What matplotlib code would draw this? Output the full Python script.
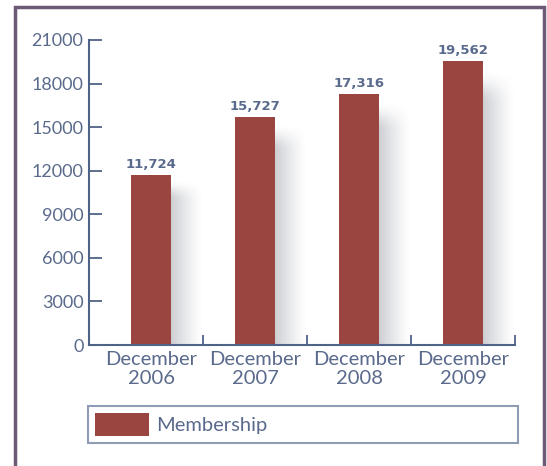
import numpy as np
import matplotlib
matplotlib.use("Agg")
import matplotlib.pyplot as plt
from matplotlib.lines import Line2D

categories = ["December\n2006", "December\n2007", "December\n2008", "December\n2009"]
membership = [11724, 15727, 17316, 19562]
value_labels = ["11,724", "15,727", "17,316", "19,562"]
yticks = [0, 3000, 6000, 9000, 12000, 15000, 18000, 21000]
series_name = "Membership"

BAR = "#9a4540"
TXT = "#5a6a8c"
AX = "#4f6288"
BORDER = "#6d5a76"

plt.rcParams['font.family'] = ['Lato', 'DejaVu Sans']

fig = plt.figure(figsize=(5.47, 4.66), dpi=100)
ax = fig.add_axes([89/547, 121/466, 426/547, 305/466])

x = np.arange(len(categories))
w = 0.385

# soft shadows to the right of bars
for xi, v in zip(x, membership):
    nx, ny = 80, 120
    gx = np.linspace(1, 0, nx) ** 1.3
    t = np.linspace(0, 1, ny)  # 0 = bottom, 1 = top
    gy = np.clip((0.97 - t) / 0.12, 0, 1)
    gy = gy * gy * (3 - 2 * gy)
    a = np.outer(gy[::-1], gx) * 0.45
    img = np.zeros((ny, nx, 4))
    img[..., 0] = 0.55
    img[..., 1] = 0.57
    img[..., 2] = 0.61
    img[..., 3] = a
    ax.imshow(img, extent=(xi + w/2, xi + w/2 + 0.30, 0, v),
              aspect='auto', zorder=1, interpolation='bilinear', origin='upper')

bars = ax.bar(x, membership, width=w, color=BAR, zorder=2, label=series_name)

for xi, v, lab in zip(x, membership, value_labels):
    ax.text(xi, v + 250, lab, ha='center', va='bottom', fontsize=9.5,
            fontweight='bold', color=TXT, family=['DejaVu Sans'])

ax.set_xlim(-0.6, 3.5)
ax.set_ylim(0, 21000)
ax.set_yticks(yticks)
ax.set_yticklabels([str(t) for t in yticks])
ax.set_xticks(x)
ax.set_xticklabels(categories, linespacing=1.15)
ax.set_xticks([0.5, 1.5, 2.5, 3.5], minor=True)

for s in ['top', 'right']:
    ax.spines[s].set_visible(False)
for s in ['left', 'bottom']:
    ax.spines[s].set_color(AX)
    ax.spines[s].set_linewidth(1.5)

ax.tick_params(axis='y', direction='in', length=9, width=1.3, color=AX,
               labelcolor=TXT, labelsize=13, pad=4)
ax.tick_params(axis='x', which='major', length=0, labelcolor=TXT,
               labelsize=14.5, pad=4)
ax.tick_params(axis='x', which='minor', direction='in', length=7, width=1.3,
               color=AX)

leg = ax.legend(handles=[bars], labels=[series_name],
                loc='center left',
                bbox_to_anchor=(88/547, 20/466, 430/547, 43/466),
                bbox_transform=fig.transFigure, mode='expand',
                fancybox=False, frameon=True, edgecolor="#7383a3",
                fontsize=14.5, handlelength=2.7, handleheight=1.45,
                handletextpad=0.35, borderpad=0.33, borderaxespad=0,
                labelcolor=TXT)
leg.get_frame().set_linewidth(1.5)

# outer frame (left, top, right)
fig.add_artist(Line2D([15/547, 15/547, 544/547, 544/547],
                      [-0.01, 1 - 7/466, 1 - 7/466, -0.01],
                      transform=fig.transFigure, color=BORDER, lw=2.5,
                      solid_joinstyle='miter'))

fig.savefig("out.png", dpi=100, facecolor='white')
